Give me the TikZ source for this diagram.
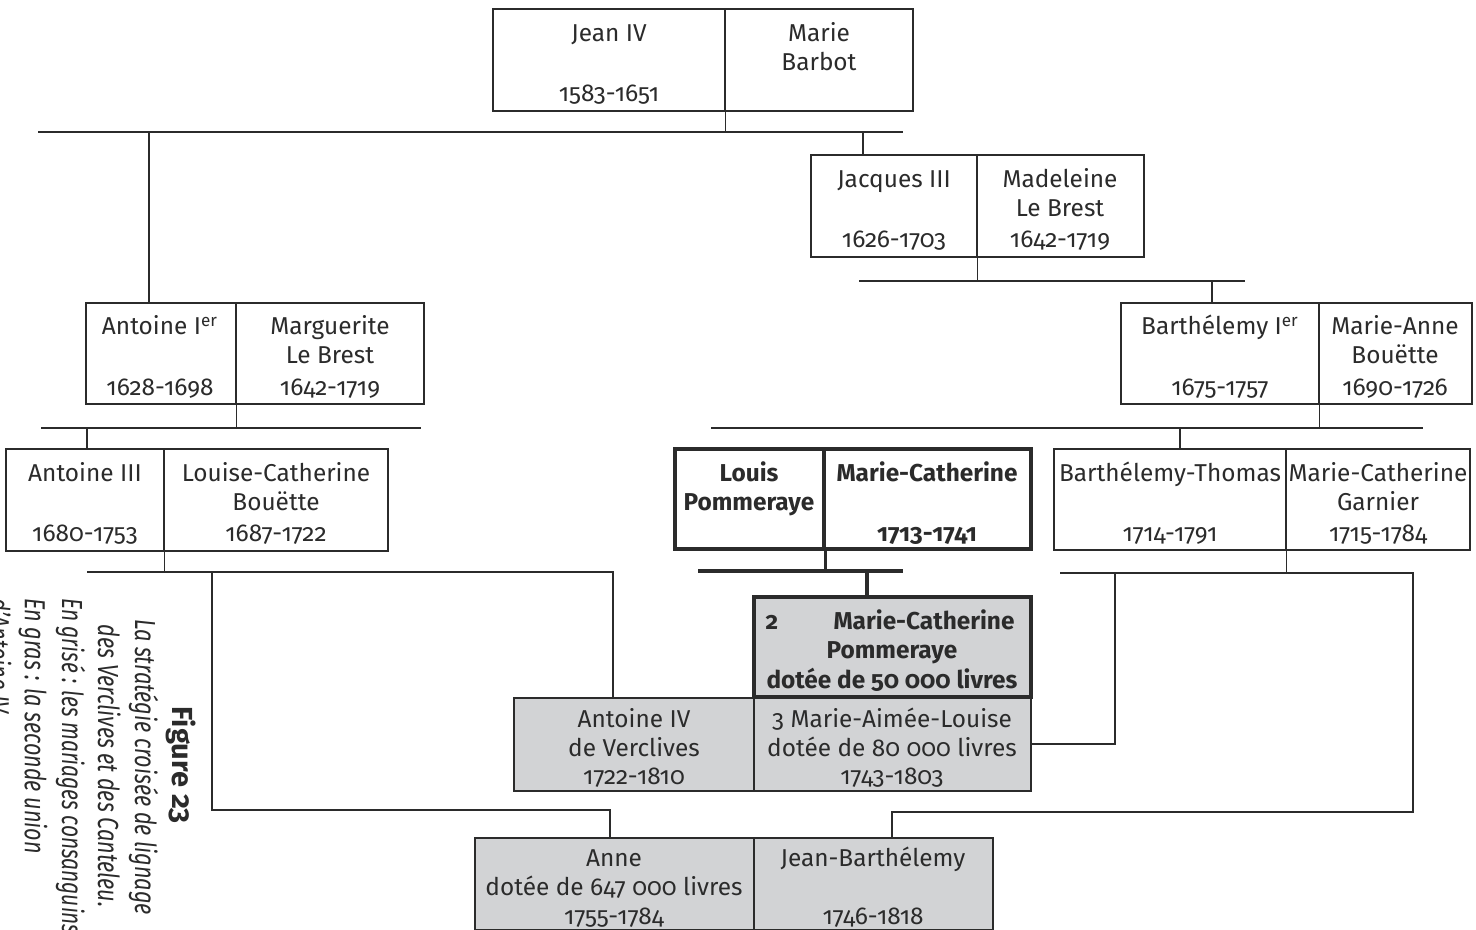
\documentclass[tikz,border=0pt]{standalone}
\usepackage{fontspec}
\setmainfont{Fira Sans}[Numbers=OldStyle]
\usetikzlibrary{fit}

\definecolor{ink}{HTML}{2B2B2B}
\definecolor{shade}{HTML}{D2D3D5}

\tikzset{
  cell/.style={draw=ink, line width=0.7pt, inner sep=0pt, fill=white},
  greycell/.style={cell, fill=shade},
  boldcell/.style={draw=ink, line width=1.6pt, inner sep=0pt, fill=white},
  boldgrey/.style={boldcell, fill=shade},
  link/.style={draw=ink, line width=0.7pt},
  boldlink/.style={draw=ink, line width=1.6pt},
  txt/.style={anchor=base, inner sep=0pt, text=ink, font=\fontsize{12.2}{14}\selectfont},
  btxt/.style={txt, font=\fontsize{12.2}{14}\selectfont\bfseries},
  captext/.style={rotate=-90, inner sep=0pt, text=ink, font=\fontsize{14.5}{17}\selectfont\itshape},
}

% a cell of a couple box, given by its pixel corners
\newcommand{\cellbox}[6]{\node[#6, fit={(#2,#3) (#4,#5)}] (#1) {};}
\newcommand{\tx}[4][txt]{\node[#1] at #3 (#2) {#4};}
% condensed caption line
\newcommand{\cond}[1]{\scalebox{0.745}[1]{#1}}

\begin{document}
\begin{tikzpicture}[x=0.5pt, y=-0.5pt]
\useasboundingbox (0,0) rectangle (1476,930);
\clip (0,0) rectangle (1476,930);

% ---------- connectors ----------
% Jean IV & Marie Barbot
\coordinate (b1w) at (38,132);  \coordinate (b1e) at (903,132);
\coordinate (d1a) at (149,132); \coordinate (d1b) at (863,132);
% Jacques III & Madeleine Le Brest
\coordinate (b2w) at (859,281); \coordinate (b2e) at (1245,281);
\coordinate (d2a) at (1212,281);
% Antoine Ier & Marguerite Le Brest
\coordinate (b3w) at (41,428);  \coordinate (b3e) at (421,428);
\coordinate (d3a) at (87,428);
% Barthelemy Ier & Marie-Anne Bouette
\coordinate (b4w) at (711,428); \coordinate (b4e) at (1423,428);
\coordinate (d4a) at (1180,428);
% Antoine III & Louise-Catherine Bouette
\coordinate (b5w) at (87,572);  \coordinate (b5e) at (613,572);
\coordinate (d5a) at (212,572); \coordinate (k5a) at (212,810); \coordinate (k5b) at (610,810);
% Louis Pommeraye & Marie-Catherine
\coordinate (b6w) at (698,571); \coordinate (b6e) at (903,571);
\coordinate (d6a) at (867,571);
% Barthelemy-Thomas & Marie-Catherine Garnier
\coordinate (b7w) at (1060,573); \coordinate (b7e) at (1413,573);
\coordinate (d7a) at (1115,573); \coordinate (k7a) at (1115,744);
\coordinate (k7b) at (1413,812); \coordinate (k7c) at (892,812);

% ---------- boxes ----------
\cellbox{jean}{493}{9}{725}{111}{cell}
\cellbox{marie}{725}{9}{913}{111}{cell}
\cellbox{jacques}{811}{155}{977}{257}{cell}
\cellbox{madeleine}{977}{155}{1144}{257}{cell}
\cellbox{antI}{86}{303}{236}{404}{cell}
\cellbox{marg}{236}{303}{424}{404}{cell}
\cellbox{barI}{1121}{303}{1319}{404}{cell}
\cellbox{manne}{1319}{303}{1472}{404}{cell}
\cellbox{antIII}{6}{449}{164}{551}{cell}
\cellbox{louise}{164}{449}{388}{551}{cell}
\cellbox{bthomas}{1054}{449}{1286}{550}{cell}
\cellbox{mcg}{1286}{449}{1470}{550}{cell}
\cellbox{antIV}{514}{698}{754}{791}{greycell}
\cellbox{maimee}{754}{698}{1031}{791}{greycell}
\cellbox{anne}{475}{838}{754}{930}{greycell}
\cellbox{jbarth}{754}{838}{993}{930}{greycell}
\cellbox{louis}{675}{449}{824}{549}{boldcell}
\cellbox{mcath}{824}{449}{1031}{549}{boldcell}
\cellbox{mcp}{754}{597}{1031}{697}{boldgrey}

% ---------- lines of descent ----------
\draw[link] (jean.south east) -- (jean.south east |- b1w);
\draw[link] (b1w) -- (b1e);
\draw[link] (d1a) -- (d1a |- antI.north);
\draw[link] (d1b) -- (d1b |- jacques.north);

\draw[link] (jacques.south east) -- (jacques.south east |- b2w);
\draw[link] (b2w) -- (b2e);
\draw[link] (d2a) -- (d2a |- barI.north);

\draw[link] (antI.south east) -- (antI.south east |- b3w);
\draw[link] (b3w) -- (b3e);
\draw[link] (d3a) -- (d3a |- antIII.north);

\draw[link] (barI.south east) -- (barI.south east |- b4w);
\draw[link] (b4w) -- (b4e);
\draw[link] (d4a) -- (d4a |- bthomas.north);

\draw[link] (antIII.south east) -- (antIII.south east |- b5w);
\draw[link] (b5w) -- (b5e) -- (b5e |- antIV.north);
\draw[link] (d5a) -- (k5a) -- (k5b) -- (k5b |- anne.north);

\draw[boldlink] (louis.south east) -- (louis.south east |- b6w);
\draw[boldlink] (b6w) -- (b6e);
\draw[boldlink] (d6a) -- (d6a |- mcp.north);

\draw[link] (bthomas.south east) -- (bthomas.south east |- b7w);
\draw[link] (b7w) -- (b7e) -- (k7b) -- (k7c) -- (k7c |- jbarth.north);
\draw[link] (d7a) -- (k7a) -- (k7a -| maimee.east);

% ---------- names and dates ----------
\tx{t1}{(609,42)}{Jean IV}
\tx{t2}{(609,102)}{1583-1651}
\tx{t3}{(819,42)}{Marie}
\tx{t4}{(819,71)}{Barbot}

\tx{t5}{(894,188)}{Jacques III}
\tx{t6}{(894,248)}{1626-1703}
\tx{t7}{(1060,188)}{Madeleine}
\tx{t8}{(1060,217)}{Le Brest}
\tx{t9}{(1060,248)}{1642-1719}

\tx{t10}{(160,335)}{Antoine I\textsuperscript{er}}
\tx{t11}{(160,395)}{1628-1698}
\tx{t12}{(330,335)}{Marguerite}
\tx{t13}{(330,364)}{Le Brest}
\tx{t14}{(330,395)}{1642-1719}

\tx{t15}{(1220,335)}{Barthélemy I\textsuperscript{er}}
\tx{t16}{(1220,395)}{1675-1757}
\tx{t17}{(1395,335)}{Marie-Anne}
\tx{t18}{(1395,364)}{Bouëtte}
\tx{t19}{(1395,395)}{1690-1726}

\tx{t20}{(85,481)}{Antoine III}
\tx{t21}{(85,541)}{1680-1753}
\tx{t22}{(276,481)}{Louise-Catherine}
\tx{t23}{(276,510)}{Bouëtte}
\tx{t24}{(276,541)}{1687-1722}

\tx[btxt]{t25}{(749,481)}{Louis}
\tx[btxt]{t26}{(749,510)}{Pommeraye}
\tx[btxt]{t27}{(927,481)}{Marie-Catherine}
\tx[btxt]{t28}{(927,541)}{1713-1741}

\tx{t29}{(1170,481)}{Barthélemy-Thomas}
\tx{t30}{(1170,541)}{1714-1791}
\tx{t31}{(1378,481)}{Marie-Catherine}
\tx{t32}{(1378,510)}{Garnier}
\tx{t33}{(1378,541)}{1715-1784}

\tx[btxt]{t34}{(772,629)}{2}
\tx[btxt]{t35}{(924,629)}{Marie-Catherine}
\tx[btxt]{t36}{(892,658)}{Pommeraye}
\tx[btxt]{t37}{(892,688)}{dotée de 50 000 livres}

\tx{t38}{(634,727)}{Antoine IV}
\tx{t39}{(634,756)}{de Verclives}
\tx{t40}{(634,784)}{1722-1810}
\tx{t41}{(892,727)}{3 Marie-Aimée-Louise}
\tx{t42}{(892,756)}{dotée de 80 000 livres}
\tx{t43}{(892,784)}{1743-1803}

\tx{t44}{(614,866)}{Anne}
\tx{t45}{(614,895)}{dotée de 647 000 livres}
\tx{t46}{(614,924)}{1755-1784}
\tx{t47}{(873,866)}{Jean-Barthélemy}
\tx{t48}{(873,924)}{1746-1818}

% ---------- caption, set sideways ----------
\node[captext, anchor=base, font=\fontsize{14.5}{17}\selectfont\bfseries] (c0) at (172,765) {Figure 23};
\node[captext, anchor=base] (c1) at (135,767) {\cond{La stratégie croisée de lignage}};
\node[captext, anchor=base] (c2) at (98,766) {\cond{des Verclives et des Canteleu.}};
\node[captext, anchor=base west] (c3) at (62,598) {\scalebox{0.72}[1]{En grisé : les mariages consanguins}};
\node[captext, anchor=base west] (c4) at (25,598) {\cond{En gras : la seconde union}};
\node[captext, anchor=base west] (c5) at (-11,598) {\cond{d’Antoine IV}};
\end{tikzpicture}
\end{document}
